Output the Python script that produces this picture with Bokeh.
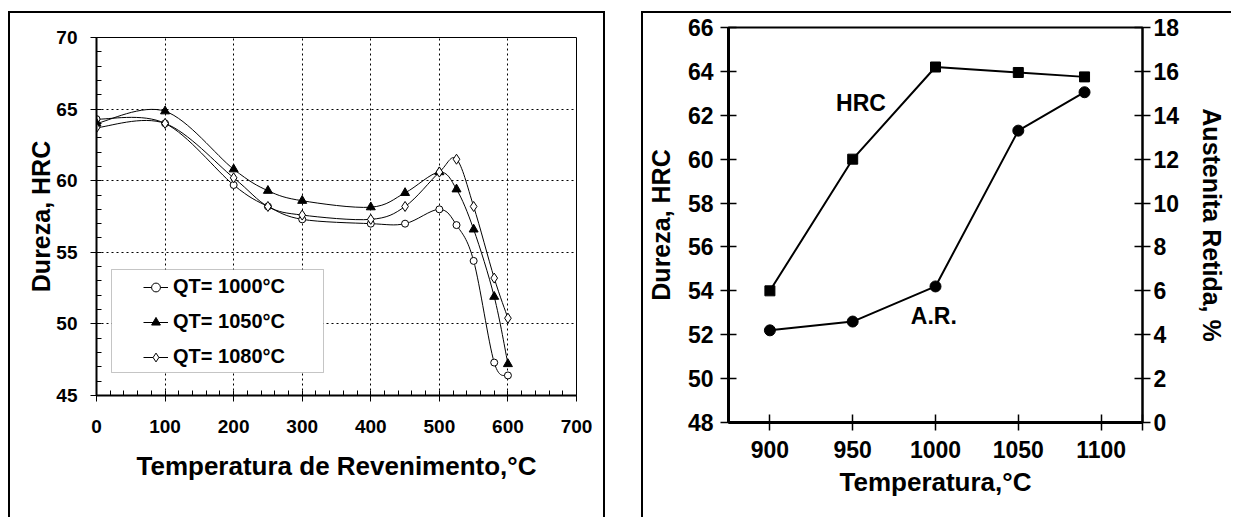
from bokeh.plotting import figure
from bokeh.models import (Range1d, LinearAxis, FixedTicker, SingleIntervalTicker,
                          Legend, LegendItem, Label, BoxAnnotation)
from bokeh.layouts import row, column
from bokeh.embed import file_html
from bokeh.resources import INLINE

FONT = "Liberation Sans"

# ---------------- data: left chart (tempering curves) ----------------
temper_temp = [0, 100, 200, 250, 300, 400, 450, 500, 525, 550, 580, 600]
hrc_qt1000 = [64.3, 64.0, 59.7, 58.2, 57.3, 57.0, 57.0, 58.0, 56.9, 54.4, 47.3, 46.4]
hrc_qt1050 = [64.0, 64.85, 60.8, 59.3, 58.6, 58.15, 59.15, 60.6, 59.4, 56.6, 51.9, 47.2]
hrc_qt1080 = [63.7, 64.0, 60.2, 58.2, 57.6, 57.3, 58.2, 60.6, 61.5, 58.2, 53.2, 50.4]
series_names = ["QT= 1000\u00b0C", "QT= 1050\u00b0C", "QT= 1080\u00b0C"]

# ---------------- data: right chart (austenitizing temperature) ----------------
aust_temp = [900, 950, 1000, 1050, 1090]
hrc_aust = [54.0, 60.0, 64.2, 63.95, 63.75]
ar_aust = [4.2, 4.6, 6.2, 13.3, 15.05]
x_ticks_right = [900, 950, 1000, 1050, 1100, 1125]


def smooth_segments(xs, ys):
    """Cubic Bezier control points (Catmull-Rom style, like Excel's smoothed line)."""
    n = len(xs)
    out = {k: [] for k in ("x0", "y0", "x1", "y1", "cx0", "cy0", "cx1", "cy1")}
    for i in range(n - 1):
        a = i - 1 if i > 0 else 0
        d = i + 2 if i + 2 < n else n - 1
        out["x0"].append(xs[i]); out["y0"].append(ys[i])
        out["x1"].append(xs[i + 1]); out["y1"].append(ys[i + 1])
        out["cx0"].append(xs[i] + (xs[i + 1] - xs[a]) / 6.0)
        out["cy0"].append(ys[i] + (ys[i + 1] - ys[a]) / 6.0)
        out["cx1"].append(xs[i + 1] - (xs[d] - xs[i]) / 6.0)
        out["cy1"].append(ys[i + 1] - (ys[d] - ys[i]) / 6.0)
    return out


def style_axis(ax, tick_px, title_px):
    ax.axis_line_color = "black"
    ax.major_tick_line_color = "black"
    ax.minor_tick_line_color = "black"
    ax.major_label_text_font = FONT
    ax.major_label_text_font_style = "bold"
    ax.major_label_text_font_size = tick_px
    ax.major_label_text_color = "black"
    ax.axis_label_text_font = FONT
    ax.axis_label_text_font_style = "bold"
    ax.axis_label_text_font_size = title_px
    ax.axis_label_text_color = "black"


# ======================= LEFT FIGURE =======================
p1 = figure(width=597, height=506, x_range=Range1d(0, 700), y_range=Range1d(45, 70),
            output_backend="svg", toolbar_location=None, margin=(11, 0, 0, 8),
            min_border_left=86, min_border_right=31, min_border_top=24, min_border_bottom=124)
p1.styles = {"border-top": "2px solid black", "border-left": "2px solid black",
             "border-right": "2px solid black", "box-sizing": "border-box"}
p1.outline_line_color = "black"
p1.outline_line_width = 1

xt = SingleIntervalTicker(interval=100, num_minor_ticks=5)
yt = SingleIntervalTicker(interval=5, num_minor_ticks=5)
p1.xaxis.ticker = xt
p1.yaxis.ticker = yt
p1.xgrid.ticker = xt
p1.ygrid.ticker = yt
for g in (p1.xgrid, p1.ygrid):
    g.grid_line_color = "black"
    g.grid_line_dash = "2 3"
    g.grid_line_width = 1

for ax in (p1.xaxis[0], p1.yaxis[0]):
    style_axis(ax, "19px", "25px")
    ax.axis_line_width = 2
    ax.major_tick_out = 6
    ax.major_tick_in = 0
    ax.minor_tick_in = 5
    ax.minor_tick_out = 0
    ax.major_tick_line_width = 1
    ax.minor_tick_line_width = 1
p1.xaxis.axis_label = "Temperatura de Revenimento,\u00b0C"
p1.xaxis.axis_label_text_font_size = "26px"
p1.yaxis.axis_label = "Dureza, HRC"
p1.xaxis.major_label_standoff = 18
p1.xaxis.axis_label_standoff = 15
p1.yaxis.major_label_standoff = 13
p1.yaxis.axis_label_standoff = -2

legend_items = []
specs = [
    (hrc_qt1000, dict(marker="circle", size=7, fill_color="white")),
    (hrc_qt1050, dict(marker="triangle", size=9, fill_color="black")),
    (hrc_qt1080, dict(marker="diamond", size=10, fill_color="white")),
]
for name, (ys, mk) in zip(series_names, specs):
    seg = smooth_segments(temper_temp, ys)
    b = p1.bezier(x0="x0", y0="y0", x1="x1", y1="y1", cx0="cx0", cy0="cy0",
                  cx1="cx1", cy1="cy1", source=seg, line_color="black", line_width=1)
    s = p1.scatter(temper_temp, ys, line_color="black", line_width=1, **mk)
    legend_items.append(LegendItem(label=name, renderers=[b, s]))

legend_frame = BoxAnnotation(left=15, right=227, bottom=23, top=126,
                             left_units="screen", right_units="screen",
                             bottom_units="screen", top_units="screen",
                             fill_color="white", fill_alpha=1.0,
                             line_color="#404040", line_width=1)
p1.add_layout(legend_frame)

legend = Legend(items=legend_items, location=(47, 27), padding=0, spacing=12,
                glyph_width=25, glyph_height=22, label_height=22, label_standoff=5,
                label_text_font=FONT, label_text_font_style="bold",
                label_text_font_size="20px", label_text_color="black",
                border_line_alpha=0, background_fill_alpha=0)
p1.add_layout(legend)

# ======================= RIGHT FIGURE =======================
p2 = figure(width=590, height=506, x_range=Range1d(875, 1125), y_range=Range1d(48, 66),
            output_backend="svg", toolbar_location=None, margin=(11, 0, 0, 0),
            min_border_left=84, min_border_right=91, min_border_top=14, min_border_bottom=97)
p2.styles = {"border-top": "2px solid black", "border-left": "2px solid black",
             "box-sizing": "border-box"}
p2.xgrid.visible = False
p2.ygrid.visible = False
p2.outline_line_color = "black"
p2.outline_line_width = 2
p2.extra_y_ranges = {"ar": Range1d(0, 18)}

p2.xaxis.ticker = FixedTicker(ticks=x_ticks_right)
p2.xaxis.major_label_overrides = {1125: ""}
p2.yaxis.ticker = SingleIntervalTicker(interval=2, num_minor_ticks=0)

right_ax = LinearAxis(y_range_name="ar", ticker=SingleIntervalTicker(interval=2, num_minor_ticks=0))
p2.add_layout(right_ax, "right")

for ax in (p2.xaxis[0], p2.yaxis[0], right_ax):
    style_axis(ax, "23px", "25px")
    ax.major_tick_in = 8
    ax.major_tick_out = 8
    ax.minor_tick_in = 0
    ax.minor_tick_out = 0
    ax.major_tick_line_width = 1.5
p2.xaxis.axis_line_width = 3
p2.yaxis[0].axis_line_width = 3
right_ax.axis_line_width = 2

p2.xaxis.axis_label = "Temperatura,\u00b0C"
p2.xaxis.axis_label_text_font_size = "26px"
p2.yaxis[0].axis_label = "Dureza, HRC"
right_ax.axis_label = "Austenita Retida, %"
p2.xaxis.major_label_standoff = 10
p2.xaxis.axis_label_standoff = 6
p2.yaxis[0].major_label_standoff = 7
p2.yaxis[0].axis_label_standoff = 10
right_ax.major_label_standoff = 3
right_ax.axis_label_standoff = 16

p2.line(aust_temp, hrc_aust, line_color="black", line_width=2)
p2.scatter(aust_temp, hrc_aust, marker="square", size=10, fill_color="black", line_color="black")
p2.line(aust_temp, ar_aust, line_color="black", line_width=2, y_range_name="ar")
p2.scatter(aust_temp, ar_aust, marker="circle", size=11, fill_color="black", line_color="black",
           y_range_name="ar")

for txt, lx, ly in (("HRC", 955, 62.55), ("A.R.", 999, 52.85)):
    p2.add_layout(Label(x=lx, y=ly, text=txt, text_align="center", text_baseline="middle",
                        text_font=FONT, text_font_style="bold", text_font_size="23px",
                        text_color="black"))

layout = row(column(p1), column(p2), spacing=36)
open("out.html", "w").write(file_html(layout, INLINE))
